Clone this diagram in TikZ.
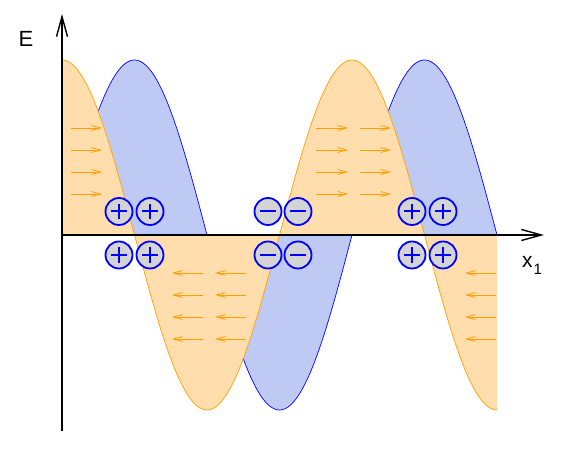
\documentclass[tikz,border=0pt]{standalone}
\usepackage{fontspec}
\newfontfamily\labfont{Liberation Sans}
\usetikzlibrary{arrows.meta}
\definecolor{ofill}{RGB}{255,221,172}
\definecolor{oline}{RGB}{255,160,0}
\definecolor{bfill}{RGB}{190,201,244}
\definecolor{bline}{RGB}{0,0,255}
\definecolor{cfill}{RGB}{212,212,212}
\tikzset{
  axisline/.style={line width=1.6pt, -{Straight Barb[length=20pt,width=11pt,line width=1.4pt]}},
  fieldarrow/.style={oline, line width=0.8pt, -{Straight Barb[length=9pt,width=5pt]}},
  chargebase/.style={circle, draw=bline, fill=cfill, line width=1.8pt, minimum size=27pt, inner sep=0pt},
  poscharge/.style={chargebase, path picture={
      \draw[bline, line width=2pt] ([xshift=-7.8pt]path picture bounding box.center) -- ([xshift=7.8pt]path picture bounding box.center);
      \draw[bline, line width=2pt] ([yshift=-7.8pt]path picture bounding box.center) -- ([yshift=7.8pt]path picture bounding box.center);}},
  negcharge/.style={chargebase, path picture={
      \draw[bline, line width=2pt] ([xshift=-7.8pt]path picture bounding box.center) -- ([xshift=7.8pt]path picture bounding box.center);}}
}
\begin{document}
\begin{tikzpicture}[x=1pt,y=1pt]
\useasboundingbox (0,0) rectangle (574,454);
\coordinate (O) at (62,219);
\coordinate (ybot) at (62,23);
\coordinate (ytop) at (62,440);
\coordinate (xend) at (544,219);
\coordinate (wend) at (497,219);
% blue wave
\fill[bfill] (O) -- plot[domain=0:9.42478, samples=220] ({62+46.155*\x},{219+175*sin(\x r)}) -- (wend) -- cycle;
\draw[bline, line width=0.7pt] plot[domain=0:9.42478, samples=220] ({62+46.155*\x},{219+175*sin(\x r)});
% orange wave
\fill[ofill] (O) -- plot[domain=0:9.42478, samples=220] ({62+46.155*\x},{219+175*cos(\x r)}) -- (wend) -- cycle;
\draw[oline, line width=0.7pt] plot[domain=0:9.42478, samples=220] ({62+46.155*\x},{219+175*cos(\x r)});
% field arrows
\foreach \y in {326,304,282,260} {
  \draw[fieldarrow] (71,\y) -- (102,\y);
  \draw[fieldarrow] (316,\y) -- (348,\y);
  \draw[fieldarrow] (360,\y) -- (391,\y);
}
\foreach \y in {181,159,137,115} {
  \draw[fieldarrow] (203,\y) -- (172,\y);
  \draw[fieldarrow] (246,\y) -- (215,\y);
  \draw[fieldarrow] (496,\y) -- (465,\y);
}
% axes
\draw[axisline] (ybot) -- (ytop);
\draw[axisline] (O) -- (xend);
% labels
\node[anchor=base west, inner sep=0pt] (lE) at (18.5,407) {\labfont\fontsize{22}{24}\selectfont E};
\node[anchor=base west, inner sep=0pt] (lx) at (522,186) {\labfont\fontsize{21}{24}\selectfont x\kern1pt\raisebox{-7pt}{\fontsize{15}{16}\selectfont 1}};
% charges
\node[poscharge] (p1) at (119,242.5) {};
\node[poscharge] (p2) at (150,242.5) {};
\node[poscharge] (p3) at (119,199) {};
\node[poscharge] (p4) at (150,199) {};
\node[negcharge] (n1) at (268,242.5) {};
\node[negcharge] (n2) at (298,242.5) {};
\node[negcharge] (n3) at (268,199) {};
\node[negcharge] (n4) at (298,199) {};
\node[poscharge] (p5) at (412,242.5) {};
\node[poscharge] (p6) at (443,242.5) {};
\node[poscharge] (p7) at (412,199) {};
\node[poscharge] (p8) at (443,199) {};
\end{tikzpicture}
\end{document}
